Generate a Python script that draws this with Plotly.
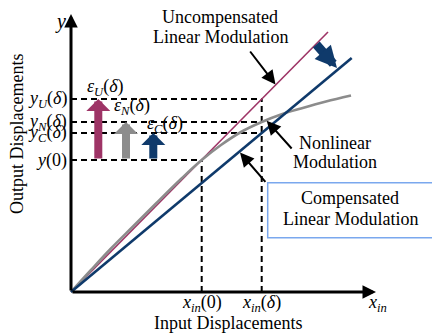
import plotly.graph_objects as go

# ---- data (diagram units: x = input displacement, y = output displacement) ----
x_in0 = 130.7          # x_in(0)
x_indelta = 190.7      # x_in(delta)
y_0 = 132              # y(0)
y_C = 159              # y_C(delta)
y_N = 170              # y_N(delta)
y_U = 193              # y_U(delta)

uncomp_x = [0, 257]
uncomp_y = [0, 260]
comp_x = [0, 280.7]
comp_y = [0, 234]
nonlin_x = [0, 20, 40, 62, 85, 110, 130.7, 150, 170, 190.7, 210, 230, 255, 280]
nonlin_y = [0, 22, 43.5, 65.5, 88.5, 113, 132, 147, 160, 170, 177.5, 183.5, 190.5, 196.5]

x_axis_end = 305
y_axis_end = 278

err_x = [27.3, 55, 82.3]            # positions of the error arrows
err_top = [y_U, y_N, y_C]
err_colors = ["#9E3466", "#8C8C8C", "#0F3A6B"]
err_labels = ["<i>ε</i><sub><i>U</i></sub>(<i>δ</i>)",
              "<i>ε</i><sub><i>N</i></sub>(<i>δ</i>)",
              "<i>ε</i><sub><i>C</i></sub>(<i>δ</i>)"]
err_label_pos = [(34, 205), (61, 186), (94, 168)]

ytick_vals = [y_U, y_N, y_C, y_0]
ytick_text = ["<i>y</i><sub><i>U</i></sub>(<i>δ</i>)",
              "<i>y</i><sub><i>N</i></sub>(<i>δ</i>)",
              "<i>y</i><sub><i>C</i></sub>(<i>δ</i>)",
              "<i>y</i>(0)"]
xtick_vals = [x_in0, x_indelta]
xtick_text = ["<i>x</i><sub><i>in</i></sub>(0)", "<i>x</i><sub><i>in</i></sub>(<i>δ</i>)"]

MAG = "#9E3466"
GRAY = "#8C8C8C"
NAVY = "#0F3A6B"
FONT = "Liberation Serif"

fig = go.Figure()

# dashed guide lines
dash_style = dict(color="black", width=2, dash="6px,4px")
for yv, xe in [(y_U, x_indelta), (y_N, x_indelta), (y_C, x_indelta), (y_0, x_in0)]:
    fig.add_trace(go.Scatter(x=[0, xe], y=[yv, yv], mode="lines", line=dash_style,
                             hoverinfo="skip", showlegend=False))
fig.add_trace(go.Scatter(x=[x_in0, x_in0], y=[0, y_0], mode="lines", line=dash_style,
                         hoverinfo="skip", showlegend=False))
fig.add_trace(go.Scatter(x=[x_indelta, x_indelta], y=[0, y_U], mode="lines", line=dash_style,
                         hoverinfo="skip", showlegend=False))

# modulation curves
fig.add_trace(go.Scatter(x=uncomp_x, y=uncomp_y, mode="lines",
                         line=dict(color=MAG, width=1.6), showlegend=False))
fig.add_trace(go.Scatter(x=nonlin_x, y=nonlin_y, mode="lines",
                         line=dict(color=GRAY, width=2.6, shape="spline"), showlegend=False))
fig.add_trace(go.Scatter(x=comp_x, y=comp_y, mode="lines",
                         line=dict(color=NAVY, width=2.6), showlegend=False))

ann = []


def arrow(x0, y0, x1, y1, color="black", width=2, head=2, size=1.0):
    ann.append(dict(x=x1, y=y1, ax=x0, ay=y0, xref="x", yref="y", axref="x", ayref="y",
                    text="", showarrow=True, arrowhead=head, arrowsize=size,
                    arrowwidth=width, arrowcolor=color, standoff=0, startstandoff=0))


def label(x, y, text, size=18, xanchor="center", angle=0):
    ann.append(dict(x=x, y=y, xref="x", yref="y", text=text, showarrow=False,
                    xanchor=xanchor, yanchor="middle", textangle=angle,
                    font=dict(family=FONT, size=size, color="black")))


# axes with arrowheads
arrow(0, 0, x_axis_end, 0, width=3, head=2, size=0.9)
arrow(0, 0, 0, y_axis_end, width=3, head=2, size=0.9)

# error arrows
for xv, top, c in zip(err_x, err_top, err_colors):
    arrow(xv, y_0, xv, top, color=c, width=8, head=1, size=0.5)

# pointer arrows
arrow(178, 242, 204.5, 207.5, width=2, head=2, size=1.4)
arrow(222, 142, 195.7, 171.3, width=2, head=2, size=1.4)
arrow(195.7, 108.7, 169, 139.5, width=2, head=2, size=1.4)

# big shift arrow
arrow(244, 249, 266, 224, color=NAVY, width=9, head=2, size=0.48)

# texts
label(-11, 271, "<i>y</i>", size=20)
label(149, 275, "Uncompensated")
label(149, 255, "Linear Modulation")
label(264, 149.5, "Nonlinear")
label(264, 130.5, "Modulation")
label(279, 94.3, "Compensated")
label(279, 72.7, "Linear Modulation")
label(-54, 158, "Output Displacements", angle=-90)
label(157, -31, "Input Displacements")
label(306, -11, "<i>x</i><sub><i>in</i></sub>")
for v, t in zip(ytick_vals, ytick_text):
    label(-2, v, t, xanchor="right")
for v, t in zip(xtick_vals, xtick_text):
    label(v, -11, t)
for (lx, ly), t in zip(err_label_pos, err_labels):
    label(lx, ly, t)

fig.update_layout(
    width=432, height=334,
    margin=dict(l=0, r=0, t=0, b=0),
    paper_bgcolor="white", plot_bgcolor="white",
    xaxis=dict(range=[-71, 361], visible=False, fixedrange=True),
    yaxis=dict(range=[-42, 292], visible=False, fixedrange=True),
    annotations=ann,
    shapes=[dict(type="rect", xref="x", yref="y", x0=196.7, x1=370, y0=54.3, y1=109.3,
                 line=dict(color="#7AA8EE", width=1.5), fillcolor="rgba(0,0,0,0)", layer="below")],
    showlegend=False,
)

fig.write_html("out.html")
